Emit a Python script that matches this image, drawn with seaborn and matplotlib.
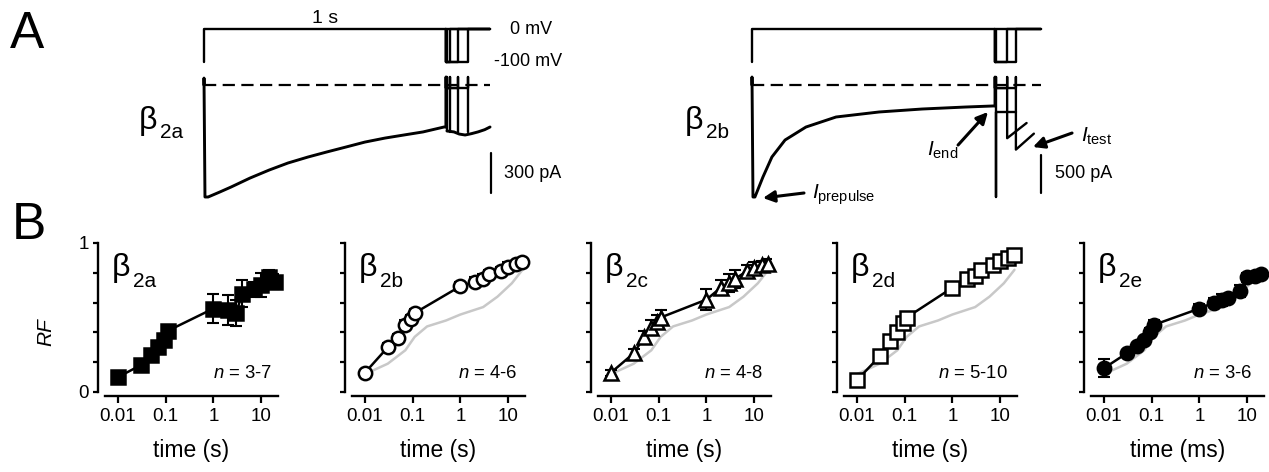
import matplotlib
matplotlib.use("Agg")
import matplotlib.pyplot as plt
import seaborn as sns
from matplotlib.ticker import FixedLocator, FixedFormatter, LogLocator, NullFormatter

# ---------------- data ----------------
# Panel A, left (beta2a): prepulse current trace (time s, current pA)
A_L_PRE_T = [0.0, 0.0, 0.004, 0.017, 0.066, 0.112, 0.19, 0.269, 0.347, 0.43, 0.508,
             0.587, 0.665, 0.748, 0.826, 0.905, 0.992, 1.0]
A_L_PRE_I = [0, 52, -840, -840, -802, -765, -698, -638, -585, -540, -502,
             -465, -428, -398, -375, -352, -315, -315]
A_L_INT = [0.004, 0.017, 0.05, 0.09]          # recovery intervals (s)
A_L_TEST = [-345, -350, -352, -352]           # test currents (pA)
A_L_TAIL_T = [1.004, 1.033, 1.055, 1.079, 1.105, 1.132, 1.16, 1.182]
A_L_TAIL_I = [-345, -352, -368, -375, -365, -352, -335, -315]
A_L_SPIKE, A_L_BASE, A_L_END = 60, -22, 1.18

# Panel A, right (beta2b)
A_R_PRE_T = [0.0, 0.0, 0.004, 0.012, 0.045, 0.082, 0.136, 0.222, 0.346, 0.523,
             0.70, 0.877, 0.992, 1.0]
A_R_PRE_I = [0, 105, -1474, -1474, -1211, -947, -724, -553, -421, -355,
             -316, -290, -276, -276]
A_R_INT = [0.004, 0.05, 0.086]
A_R_TEST = [-1480, -700, -850]
A_R_TAIL_T = [[1.004, 1.086], [1.13], [1.16]]
A_R_TAIL_I = [[-355, -355], [-500], [-640]]
A_R_SPIKE, A_R_BASE, A_R_END = 105, -40, 1.19

V_HOLD, V_PRE = -100, 0  # mV

# Panel B: recovery fraction vs time
B_T = [0.01, 0.03, 0.05, 0.07, 0.09, 0.11, 1, 2, 3, 4, 7, 10, 15, 20]
RF_2A = [0.10, 0.18, 0.25, 0.30, 0.35, 0.41, 0.56, 0.55, 0.53, 0.66, 0.69, 0.72, 0.77, 0.74]
ERR_2A = [0.01, 0.02, 0.02, 0.02, 0.02, 0.02, 0.10, 0.10, 0.09, 0.09, 0.05, 0.08, 0.05, 0.05]
RF_2B = [0.13, 0.30, 0.36, 0.45, 0.49, 0.53, 0.71, 0.74, 0.76, 0.79, 0.81, 0.84, 0.86, 0.87]
ERR_2B = [0.02, 0.03, 0.03, 0.03, 0.03, 0.03, 0.03, 0.03, 0.03, 0.03, 0.03, 0.03, 0.02, 0.02]
RF_2C = [0.13, 0.26, 0.37, 0.43, 0.47, 0.50, 0.62, 0.70, 0.73, 0.76, 0.81, 0.83, 0.85, 0.86]
ERR_2C = [0.02, 0.03, 0.04, 0.05, 0.05, 0.05, 0.07, 0.05, 0.06, 0.06, 0.04, 0.04, 0.03, 0.03]
RF_2D = [0.08, 0.24, 0.34, 0.40, 0.46, 0.50, 0.70, 0.76, 0.78, 0.82, 0.85, 0.88, 0.90, 0.92]
ERR_2D = [0.02, 0.02, 0.02, 0.02, 0.03, 0.03, 0.02, 0.03, 0.03, 0.03, 0.03, 0.03, 0.03, 0.03]
RF_2E = [0.16, 0.26, 0.31, 0.35, 0.40, 0.45, 0.56, 0.60, 0.62, 0.63, 0.68, 0.77, 0.78, 0.79]
ERR_2E = [0.06, 0.02, 0.02, 0.02, 0.03, 0.03, 0.03, 0.03, 0.04, 0.03, 0.04, 0.03, 0.02, 0.02]
# grey reference curve (beta2a fit) shown in the other panels
REF_T = [0.01, 0.03, 0.07, 0.11, 0.2, 0.5, 1, 3, 6, 12, 20]
REF_RF = [0.12, 0.19, 0.28, 0.37, 0.44, 0.48, 0.52, 0.57, 0.64, 0.73, 0.82]

SUBS = ["2a", "2b", "2c", "2d", "2e"]
N_TEXT = ["3-7", "4-6", "4-8", "5-10", "3-6"]
XLABELS = ["time (s)", "time (s)", "time (s)", "time (s)", "time (ms)"]
X_TICKS = [0.01, 0.1, 1, 10]
X_TICKLABELS = ["0.01", "0.1", "1", "10"]

# ---------------- style ----------------
sns.set_theme(style="ticks")
plt.rcParams["font.family"] = ["Liberation Sans", "DejaVu Sans"]
plt.rcParams["mathtext.fontset"] = "custom"
plt.rcParams["mathtext.rm"] = "Liberation Sans"
plt.rcParams["mathtext.it"] = "Liberation Sans:italic"
plt.rcParams["mathtext.bf"] = "Liberation Sans:bold"
plt.rcParams["axes.edgecolor"] = "black"
plt.rcParams["xtick.color"] = "black"
plt.rcParams["ytick.color"] = "black"
plt.rcParams["text.color"] = "black"

W, H = 1269, 472
fig = plt.figure(figsize=(W / 100, H / 100), dpi=100)
fig.patch.set_facecolor("white")


def rect(x0, y0, x1, y1):
    return [x0 / W, 1 - y1 / H, (x1 - x0) / W, (y1 - y0) / H]


def fx(x):
    return x / W


def fy(y):
    return 1 - y / H


def trace_axes(x0, x1, y0, y1, t0px, pxs, zero_y, ppu):
    ax = fig.add_axes(rect(x0, y0, x1, y1))
    ax.set_xlim((x0 - t0px) / pxs, (x1 - t0px) / pxs)
    ax.set_ylim((zero_y - y1) / ppu, (zero_y - y0) / ppu)
    ax.axis("off")
    ax.patch.set_alpha(0)
    return ax


def line(ax, t, y, lw=1.5, **kw):
    sns.lineplot(x=t, y=y, ax=ax, sort=False, estimator=None, color="black",
                 linewidth=lw, legend=False, **kw)


# ---------------- panel A ----------------
fig.text(fx(10), fy(48), "A", fontsize=37, va="baseline", ha="left")
fig.text(fx(12), fy(239), "B", fontsize=37, va="baseline", ha="left")

sides = [
    dict(t0=204, pxs=242, box=(120, 640), ippu=40 / 300, pre_t=A_L_PRE_T, pre_i=A_L_PRE_I,
         ints=A_L_INT, tests=A_L_TEST, spike=A_L_SPIKE, base=A_L_BASE, end=A_L_END,
         sub="2a", bx=139, bar=300, bar_top=-510),
    dict(t0=752, pxs=243, box=(640, 1160), ippu=38 / 500, pre_t=A_R_PRE_T, pre_i=A_R_PRE_I,
         ints=A_R_INT, tests=A_R_TEST, spike=A_R_SPIKE, base=A_R_BASE, end=A_R_END,
         sub="2b", bx=685, bar=500, bar_top=-921),
]
for k, s in enumerate(sides):
    axv = trace_axes(s["box"][0], s["box"][1], 3, 70, s["t0"], s["pxs"], 29, 0.33)
    axi = trace_axes(s["box"][0], s["box"][1], 66, 214, s["t0"], s["pxs"], 85, s["ippu"])
    # voltage protocol
    line(axv, [0.0, 0.0, 1.0], [V_HOLD, V_PRE, V_PRE], lw=1.7)
    for d in s["ints"]:
        line(axv, [1.0, 1.0, 1.0 + d, 1.0 + d, s["end"]],
             [V_PRE, V_HOLD, V_HOLD, V_PRE, V_PRE], lw=1.7)
    if k == 0:
        axv.text(0.5, 33, "1 s", fontsize=14, ha="center", va="center")
        axv.text(1.264, 0, "0 mV", fontsize=13, ha="left", va="center")
        axv.text(1.198, -100, "-100 mV", fontsize=13, ha="left", va="center")
    # zero-current dashed line
    axi.plot([0, s["end"]], [0, 0], color="black", lw=1.6, ls=(0, (5.5, 2.9)))
    # current traces
    line(axi, s["pre_t"], s["pre_i"], lw=2.1)
    for j, (d, it) in enumerate(zip(s["ints"], s["tests"])):
        tt = [1.0, 1.0, 1.0, 1.0 + d, 1.0 + d, 1.0 + d]
        ii = [s["pre_i"][-1], s["spike"], s["base"], s["base"], s["spike"], it]
        if k == 1:
            tt = tt + A_R_TAIL_T[j]
            ii = ii + A_R_TAIL_I[j]
        line(axi, tt, ii, lw=1.7)
    if k == 0:
        line(axi, A_L_TAIL_T, A_L_TAIL_I, lw=2.1)
    # scale bar
    tb = (s["end"] + 0.006) if k == 0 else s["end"]
    line(axi, [tb, tb], [s["bar_top"], s["bar_top"] - s["bar"]], lw=1.6)
    axi.text(tb + 0.055, s["bar_top"] - s["bar"] / 2, f"{s['bar']} pA",
             fontsize=13, ha="left", va="center")
    # beta label
    fig.text(fx(s["bx"]), fy(129), "β", fontsize=23, ha="left", va="baseline")
    fig.text(fx(s["bx"] + 21), fy(138), s["sub"], fontsize=15, ha="left", va="baseline")
    if k == 1:
        arrow = dict(arrowstyle="-|>", color="black", lw=2.2, mutation_scale=17,
                     shrinkA=0, shrinkB=0)
        axi.annotate("", xy=(0.045, -1487), xytext=(0.214, -1421), arrowprops=arrow)
        axi.text(0.245, -1450, r"$I_{\rm prepulse}$", fontsize=15, ha="left", va="center")
        axi.annotate("", xy=(0.971, -355), xytext=(0.848, -790), arrowprops=arrow)
        axi.text(0.72, -860, r"$I_{\rm end}$", fontsize=15, ha="left", va="center")
        axi.annotate("", xy=(1.156, -816), xytext=(1.317, -632), arrowprops=arrow)
        axi.text(1.354, -680, r"$I_{\rm test}$", fontsize=15, ha="left", va="center")

# ---------------- panel B ----------------
SPINE_X = [98, 345, 591, 837, 1084]
N_X = [0.965, 0.955, 0.955, 0.95, 0.935]
DEC = 47.7
specs = [
    (RF_2A, ERR_2A, "s", "black"),
    (RF_2B, ERR_2B, "o", "white"),
    (RF_2C, ERR_2C, "^", "white"),
    (RF_2D, ERR_2D, "s", "white"),
    (RF_2E, ERR_2E, "o", "black"),
]
for i, (rf, err, mk, fc) in enumerate(specs):
    x0 = SPINE_X[i]
    ax = fig.add_axes(rect(x0, 243, x0 + 180, 396))
    ax.patch.set_alpha(0)
    ax.set_xscale("log")
    xmin = 10 ** (-2 - 20 / DEC)
    xmax = 10 ** (-2 + 160 / DEC)
    ax.set_xlim(xmin, xmax)
    ax.set_ylim(-4 / 149, 1.0)
    if i > 0:
        sns.lineplot(x=REF_T, y=REF_RF, ax=ax, color="#c8c8c8", linewidth=1.8,
                     sort=False, estimator=None, legend=False, zorder=1)
    sns.lineplot(x=B_T, y=rf, ax=ax, color="black", linewidth=1.8,
                 sort=False, estimator=None, legend=False, zorder=2)
    ax.errorbar(B_T, rf, yerr=err, fmt="none", ecolor="black", elinewidth=1.5,
                capsize=4.4, capthick=1.5, zorder=3)
    ax.plot(B_T, rf, ls="none", marker=mk, ms=9.6 if mk != "^" else 10.4,
            mfc=fc, mec="black", mew=1.8, zorder=4, clip_on=False)
    for side in ("top", "right"):
        ax.spines[side].set_visible(False)
    for side in ("left", "bottom"):
        ax.spines[side].set_linewidth(1.7)
        ax.spines[side].set_color("black")
    ax.spines["left"].set_bounds(0, 1)
    ax.spines["bottom"].set_bounds(10 ** (-2 - 13 / DEC), xmax)
    ax.xaxis.set_major_locator(FixedLocator(X_TICKS))
    ax.xaxis.set_major_formatter(FixedFormatter(X_TICKLABELS))
    ax.xaxis.set_minor_locator(LogLocator(base=10, subs=range(2, 10)))
    ax.xaxis.set_minor_formatter(NullFormatter())
    ax.yaxis.set_major_locator(FixedLocator([0, 0.2, 0.4, 0.6, 0.8, 1.0]))
    if i == 0:
        ax.yaxis.set_major_formatter(FixedFormatter(["0", "", "", "", "", "1"]))
    else:
        ax.yaxis.set_major_formatter(NullFormatter())
    ax.tick_params(axis="x", which="major", direction="out", length=4.8, width=1.6,
                   labelsize=13.5, pad=4)
    ax.tick_params(axis="x", which="minor", direction="out", length=2.8, width=1.4)
    ax.tick_params(axis="y", which="major", direction="out", length=3.6, width=1.6,
                   labelsize=13.5, pad=3)
    # beta label
    ax.text(0.075, 0.784, "β", transform=ax.transAxes, fontsize=23, ha="left", va="baseline")
    ax.text(0.195, 0.712, SUBS[i], transform=ax.transAxes, fontsize=15, ha="left", va="baseline")
    ax.text(N_X[i], 0.12, "$n$ = " + N_TEXT[i], transform=ax.transAxes, fontsize=13.3,
            ha="right", va="baseline")
    fig.text(fx(x0 + 93.5), fy(450), XLABELS[i], fontsize=16.5, ha="center", va="center")

fig.text(fx(46), fy(332), "RF", fontsize=15, fontstyle="italic", rotation=90,
         ha="center", va="center")

fig.savefig("out.png", dpi=100, facecolor="white")
